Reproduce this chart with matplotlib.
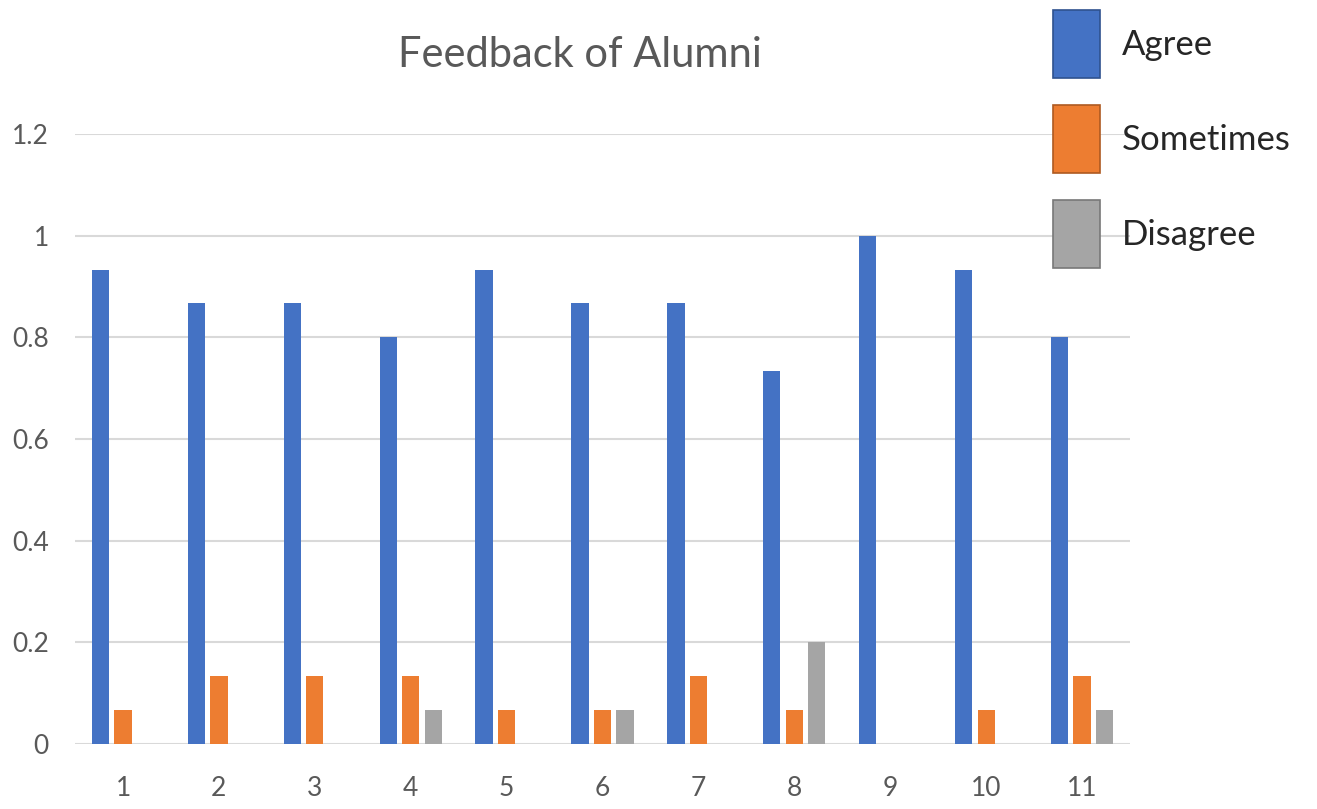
import numpy as np
import matplotlib.pyplot as plt

# dati (frazioni su 15 risposte)
questions = ["1", "2", "3", "4", "5", "6", "7", "8", "9", "10", "11"]
agree = [0.933, 0.867, 0.867, 0.8, 0.933, 0.867, 0.867, 0.733, 1.0, 0.933, 0.8]
sometimes = [0.067, 0.133, 0.133, 0.133, 0.067, 0.067, 0.133, 0.067, 0.0, 0.067, 0.133]
disagree = [0.0, 0.0, 0.0, 0.067, 0.0, 0.067, 0.0, 0.2, 0.0, 0.0, 0.067]
yticks = [0, 0.2, 0.4, 0.6, 0.8, 1, 1.2]
ytick_labels = ["0", "0.2", "0.4", "0.6", "0.8", "1", "1.2"]

plt.rcParams['font.family'] = ['Lato', 'DejaVu Sans']

fig = plt.figure(figsize=(13.17, 8.09), dpi=100)
ax = fig.add_axes([0.057, 0.0804, 0.801, 0.754])

x = np.arange(len(questions))
w = 0.18
step = 0.235
series = [(agree, "Agree", "#4472C4", "#2F528F"),
          (sometimes, "Sometimes", "#ED7D31", "#AE5A21"),
          (disagree, "Disagree", "#A5A5A5", "#787878")]
handles = []
for i, (vals, name, col, edge) in enumerate(series):
    ax.bar(x + (i - 1) * step, vals, width=w, color=col, zorder=3)
    handles.append(plt.Rectangle((0, 0), 1, 1, facecolor=col, edgecolor=edge, linewidth=1.2, label=name))

ax.set_xlim(-0.5, len(questions) - 0.5)
ax.set_ylim(0, 1.2)
ax.set_yticks(yticks)
ax.set_yticklabels(ytick_labels)
ax.set_xticks(x)
ax.set_xticklabels(questions)
ax.grid(axis='y', color='#D9D9D9', linewidth=1.5, zorder=0)
for s in ax.spines.values():
    s.set_visible(False)
ax.tick_params(length=0, labelsize=19, colors='#595959')
ax.tick_params(axis='x', pad=23)
ax.tick_params(axis='y', pad=19)

fig.text(0.44, 0.932, "Feedback of Alumni", ha='center', va='center', fontsize=30, color='#595959')

fig.legend(handles=handles, loc='upper left', bbox_to_anchor=(1053 / 1317, 1 - 10 / 809),
           frameon=False, fontsize=25, labelcolor='#262626', handlelength=1.35, handleheight=2.64,
           labelspacing=0.78, handletextpad=0.63, borderpad=0, borderaxespad=0)

plt.savefig("out.png", dpi=100)
plt.close()
